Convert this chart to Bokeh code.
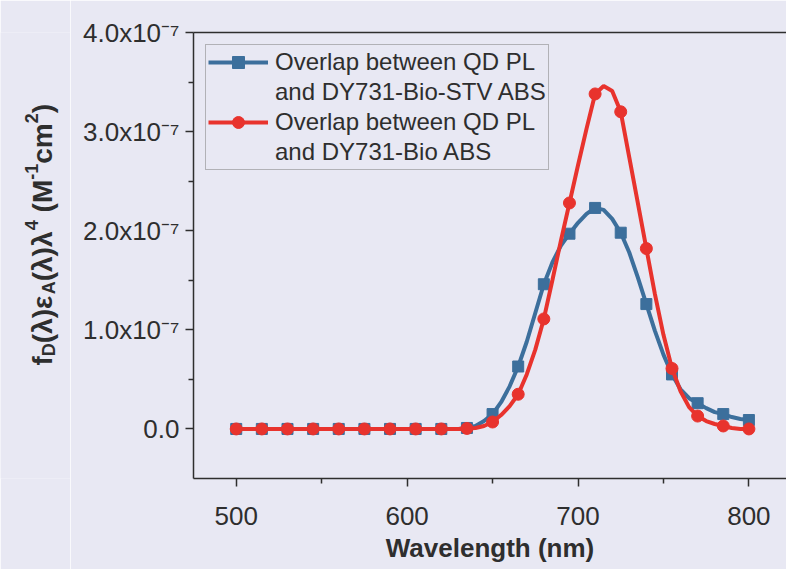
import math
from bokeh.plotting import figure
from bokeh.layouts import row
from bokeh.models import (Range1d, FixedTicker, CustomJSTickFormatter, LinearAxis,
                          Legend, LegendItem, Label, ColumnDataSource)
from bokeh.embed import file_html
from bokeh.resources import INLINE

# ---------------- data ----------------
wavelength = [500, 505, 510, 515, 520, 525, 530, 535, 540, 545, 550, 555, 560, 565, 570,
              575, 580, 585, 590, 595, 600, 605, 610, 615, 620, 625, 630, 635, 640, 645,
              650, 655, 660, 665, 670, 675, 680, 685, 690, 695, 700, 705, 710, 715, 720,
              725, 730, 735, 740, 745, 750, 755, 760, 765, 770, 775, 780, 785, 790, 795, 800]

overlap_bio_stv = [0.0, 0.0, 0.0, 0.0, 0.0, 0.0, 0.0, 0.0, 0.0, 0.0, 0.0, 0.0, 0.0, 0.0, 0.0,
                   0.0, 0.0, 0.0, 0.0, 0.0, 0.0, 0.0, 0.0, 0.0, 0.0, 0.0, 0.0, 0.01e-7, 0.03e-7, 0.08e-7,
                   0.15e-7, 0.27e-7, 0.43e-7, 0.63e-7, 0.88e-7, 1.17e-7, 1.46e-7, 1.68e-7, 1.85e-7, 1.97e-7,
                   2.08e-7, 2.17e-7, 2.23e-7, 2.21e-7, 2.12e-7, 1.98e-7, 1.78e-7, 1.53e-7, 1.26e-7, 0.99e-7,
                   0.75e-7, 0.55e-7, 0.40e-7, 0.31e-7, 0.26e-7, 0.21e-7, 0.17e-7, 0.15e-7, 0.12e-7, 0.10e-7,
                   0.09e-7]

overlap_bio = [0.0, 0.0, 0.0, 0.0, 0.0, 0.0, 0.0, 0.0, 0.0, 0.0, 0.0, 0.0, 0.0, 0.0, 0.0,
               0.0, 0.0, 0.0, 0.0, 0.0, 0.0, 0.0, 0.0, 0.0, 0.0, 0.0, 0.0, 0.005e-7, 0.01e-7, 0.03e-7,
               0.07e-7, 0.14e-7, 0.23e-7, 0.35e-7, 0.55e-7, 0.80e-7, 1.11e-7, 1.50e-7, 1.90e-7, 2.28e-7,
               2.66e-7, 3.03e-7, 3.38e-7, 3.46e-7, 3.41e-7, 3.20e-7, 2.74e-7, 2.28e-7, 1.82e-7, 1.36e-7,
               0.95e-7, 0.61e-7, 0.38e-7, 0.22e-7, 0.13e-7, 0.08e-7, 0.05e-7, 0.03e-7, 0.01e-7, 0.0,
               0.0]

series_labels = [("Overlap between QD PL", "and DY731-Bio-STV ABS"),
                 ("Overlap between QD PL", "and DY731-Bio ABS")]
x_ticks = [500, 600, 700, 800]
x_minor = [550, 650, 750]
y_ticks = [0.0, 1e-7, 2e-7, 3e-7, 4e-7]
y_minor = [0.5e-7, 1.5e-7, 2.5e-7, 3.5e-7]
x_title = "Wavelength (nm)"
# y title pieces: (text, 0 = normal, -1 = subscript, 1 = superscript)
y_title_parts = [("f", 0), ("D", -1), ("(λ)ε", 0), ("A", -1), ("(λ)λ", 0), ("4", 1),
                 (" ", 0), ("(M", 0), ("-1", 1), ("cm", 0), ("2", 1), (")", 0)]
marker_step = 3

# ---------------- style ----------------
BG = "#e8e8f3"
BLUE = "#3c6f9c"
RED = "#e8332d"
INK = "#2e2e2e"
FONT = "Liberation Sans"
W, H = 786, 569
LEFT_W = 70
TOP_B, BOT_B = 32, 91

p = figure(width=W - LEFT_W, height=H, output_backend="svg", toolbar_location=None,
           x_range=Range1d(475, 822), y_range=Range1d(-0.5e-7, 4e-7),
           min_border_left=193 - LEFT_W, min_border_right=0,
           min_border_top=TOP_B, min_border_bottom=BOT_B)
p.background_fill_color = BG
p.border_fill_color = BG
p.outline_line_color = None
p.grid.visible = False

src = ColumnDataSource(dict(x=wavelength, stv=overlap_bio_stv, bio=overlap_bio))
msrc = ColumnDataSource(dict(x=wavelength[::marker_step], stv=overlap_bio_stv[::marker_step],
                             bio=overlap_bio[::marker_step]))

bl = p.line("x", "stv", source=src, line_color=BLUE, line_width=4)
bs = p.scatter("x", "stv", source=msrc, marker="square", size=11, fill_color=BLUE, line_color=BLUE)
rl = p.line("x", "bio", source=src, line_color=RED, line_width=4)
rs = p.scatter("x", "bio", source=msrc, marker="circle", size=12, fill_color=RED, line_color=RED)
dummy1 = p.line(x=[], y=[], line_alpha=0)
dummy2 = p.line(x=[], y=[], line_alpha=0)

# axes
for ax in (p.xaxis[0], p.yaxis[0]):
    ax.axis_line_color = INK
    ax.axis_line_width = 1.5
    ax.major_tick_line_color = INK
    ax.minor_tick_line_color = INK
    ax.major_tick_line_width = 1.5
    ax.minor_tick_line_width = 1.5
    ax.major_tick_in = 0
    ax.minor_tick_in = 0
    ax.major_tick_out = 8
    ax.minor_tick_out = 5
    ax.major_label_text_font = FONT
    ax.major_label_text_font_size = "26px"
    ax.major_label_text_color = INK

p.xaxis.ticker = FixedTicker(ticks=x_ticks, minor_ticks=x_minor)
p.xaxis.major_label_standoff = 20
p.xaxis.axis_label = x_title
p.xaxis.axis_label_text_font = FONT
p.xaxis.axis_label_text_font_style = "bold"
p.xaxis.axis_label_text_font_size = "26px"
p.xaxis.axis_label_text_color = INK
p.xaxis.axis_label_standoff = 5

p.yaxis.ticker = FixedTicker(ticks=y_ticks, minor_ticks=y_minor)
p.yaxis.major_label_standoff = 6
p.yaxis.formatter = CustomJSTickFormatter(code="""
    const m = tick / 1e-7;
    if (Math.abs(m) < 1e-9) return "0.0";
    return m.toFixed(1) + "x10\\u207B\\u2077";
""")

top = LinearAxis(ticker=FixedTicker(ticks=[]), major_label_text_font_size="0px",
                 major_tick_out=0, minor_tick_out=0, axis_line_color=INK, axis_line_width=1.5,
                 major_label_standoff=0)
p.add_layout(top, "above")

# legend
legend = Legend(items=[
    LegendItem(label=series_labels[0][0], renderers=[bl, bs]),
    LegendItem(label=series_labels[0][1], renderers=[dummy1]),
    LegendItem(label=series_labels[1][0], renderers=[rl, rs]),
    LegendItem(label=series_labels[1][1], renderers=[dummy2]),
], location="top_left")
legend.margin = 12
legend.padding = 2
legend.spacing = 0
legend.glyph_width = 60
legend.glyph_height = 30
legend.label_height = 30
legend.label_standoff = 7
legend.label_text_font = FONT
legend.label_text_font_size = "24px"
legend.label_text_color = INK
legend.border_line_color = "#7a7a7a"
legend.border_line_width = 1
legend.background_fill_alpha = 0
p.add_layout(legend)

# ---------------- y-axis title panel (data units = pixels from page bottom) ----------------
lp = figure(width=LEFT_W, height=H, output_backend="svg", toolbar_location=None,
            x_range=Range1d(0, LEFT_W), y_range=Range1d(BOT_B, H - TOP_B),
            x_axis_type=None, y_axis_type=None,
            min_border_left=0, min_border_right=0, min_border_top=TOP_B, min_border_bottom=BOT_B)
lp.background_fill_color = BG
lp.border_fill_color = BG
lp.outline_line_color = None
lp.grid.visible = False

WID = {'f': 0.333, 'D': 0.722, '(': 0.333, ')': 0.333, 'λ': 0.58, 'ε': 0.5, 'A': 0.722,
       '4': 0.556, ' ': 0.278, 'M': 0.833, '-': 0.333, '1': 0.556, 'c': 0.556, 'm': 0.889, '2': 0.556}
main_fs, small_fs = 28, 18


def piece_len(txt, fs):
    return sum(WID.get(ch, 0.55) for ch in txt) * fs


base_x = 42
pos = H - 365
for txt, kind in y_title_parts:
    fs = main_fs if kind == 0 else small_fs
    dx = 0 if kind == 0 else (6 if kind < 0 else -11)
    if txt.strip():
        lp.add_layout(Label(x=base_x + dx, y=pos, text=txt,
                            angle=math.pi / 2, text_font=FONT, text_font_style="bold",
                            text_font_size=f"{fs}px", text_color=INK,
                            text_align="left", text_baseline="alphabetic"))
    pos += piece_len(txt, fs)

layout = row(lp, p, spacing=0)
open("out.html", "w", encoding="utf-8").write(file_html(layout, INLINE))
